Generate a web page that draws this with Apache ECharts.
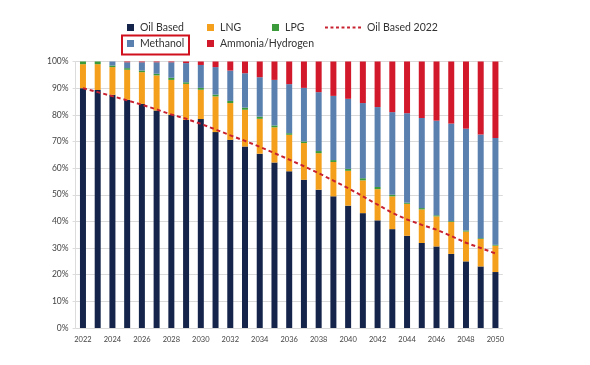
<!DOCTYPE html>
<html>
<head>
<meta charset="utf-8">
<script src="https://cdn.jsdelivr.net/npm/echarts@6/dist/echarts.min.js"></script>
<style>
html,body{margin:0;padding:0;background:#fff;}
#chart{width:590px;height:365px;}
</style>
</head>
<body>
<div id="chart"></div>
<script>
const years = ['2022','2023','2024','2025','2026','2027','2028','2029','2030','2031','2032','2033','2034','2035','2036','2037','2038','2039','2040','2041','2042','2043','2044','2045','2046','2047','2048','2049','2050'];
const oilBased = [90,89.3,87.5,85.6,84.1,81.6,80,78.1,78.4,73.5,70.6,68.1,65.4,62.1,58.8,55.6,51.9,49.4,45.9,43.1,40.4,37.1,34.6,31.9,30.6,27.8,25,23.1,21];
const lng = [9,9.7,10.4,11.3,11.9,13.2,13.1,13.5,11,13.4,13.8,13.8,13.1,13.2,13.7,13.8,13.7,12.9,13.1,12.3,11.7,12.3,12,12.6,11.3,12,11.2,10.3,9.9];
const lpg = [1,1,0.6,0.6,0.6,0.6,0.8,0.6,0.7,0.7,0.8,0.8,0.8,0.7,0.6,0.6,0.8,0.7,0.7,0.8,0.8,0.6,0.4,0.5,0.4,0.3,0.4,0.3,0.3];
const methanol = [0,0,1.5,2.2,3.1,4.3,5.8,7.2,8.6,10.3,11.4,12.9,14.8,17.1,18.4,20.1,22.1,24.1,26.3,28.2,30,31,33.6,33.8,35.5,36.6,38.2,38.9,40.1];
const ammonia = [0,0,0,0.3,0.3,0.3,0.3,0.6,1.3,2.1,3.4,4.4,5.9,6.9,8.5,9.9,11.5,12.9,14,15.6,17.1,19,19.4,21.2,22.2,23.4,25.2,27.5,28.8];
const oilBased2022 = [90,88.5,87,85.4,83.8,82,80.1,78.5,76.6,74.5,72.3,70.2,68,65.6,63.2,60.7,58.1,55.3,52.5,49.4,46.3,43.2,40.7,38.7,36.9,34.5,32,30,28];
const yTicks = ['0%','10%','20%','30%','40%','50%','60%','70%','80%','90%','100%'];

const FONT = 'Lato';
const C = {oil:'#14244a', lng:'#f5a01d', lpg:'#3b9a3a', meth:'#5a80b0', amm:'#d2182b', line:'#c8202f'};

const chart = echarts.init(document.getElementById('chart'), null, {renderer:'canvas'});

function leg(name, left, top, opts) {
  return Object.assign({
    data:[name], left:left, top:top, padding:0, itemWidth:7, itemHeight:7,
    icon:'rect', selectedMode:false,
    textStyle:{fontFamily:FONT, fontSize:10.5, color:'#333', padding:[0,0,0,1]}
  }, opts||{});
}
const dashPath = 'path://M0,0h9v6h-9z M17,0h9v6h-9z M34,0h9v6h-9z M51,0h9v6h-9z M68,0h9v6h-9z M85,0h9v6h-9z M102,0h9v6h-9z';

function bar(name, data, color) {
  return {name:name, type:'bar', stack:'s', data:data, barWidth:6,
    itemStyle:{color:color}, emphasis:{disabled:true}};
}

chart.setOption({
  backgroundColor:'#fff',
  animation:false,
  legend:[
    leg('Oil Based', 127, 22),
    leg('LNG', 207, 22),
    leg('LPG', 272, 22),
    leg('Oil Based 2022', 325, 22, {icon:dashPath, itemWidth:36, itemHeight:2}),
    leg('Methanol', 127, 38),
    leg('Ammonia/Hydrogen', 207, 38)
  ],
  grid:{left:75.6, right:87.2, top:61.5, bottom:37},
  xAxis:{type:'category', data:years, boundaryGap:true,
    axisLine:{show:false}, axisTick:{show:false},
    axisLabel:{interval:1, fontFamily:FONT, fontSize:7.5, color:'#444', margin:8}},
  yAxis:{type:'value', min:0, max:100, interval:10,
    axisLine:{show:true, lineStyle:{color:'#dcdcdc'}},
    axisTick:{show:true, length:3, lineStyle:{color:'#dcdcdc'}},
    splitLine:{lineStyle:{color:'#dadada', width:1}},
    axisLabel:{fontFamily:FONT, fontSize:8.5, color:'#444', margin:7,
      formatter:function(v){return yTicks[Math.round(v/10)];}}},
  series:[
    bar('Oil Based', oilBased, C.oil),
    bar('LNG', lng, C.lng),
    bar('LPG', lpg, C.lpg),
    bar('Methanol', methanol, C.meth),
    bar('Ammonia/Hydrogen', ammonia, C.amm),
    {name:'Oil Based 2022', type:'line', data:oilBased2022, symbol:'none', z:5,
      itemStyle:{color:C.line},
      lineStyle:{color:C.line, width:2, type:[4,3]}}
  ],
  graphic:[{type:'rect', shape:{x:122, y:35.5, width:67, height:19}, z:100,
    style:{fill:'none', stroke:'#d0101c', lineWidth:2}}]
});
</script>
</body>
</html>
